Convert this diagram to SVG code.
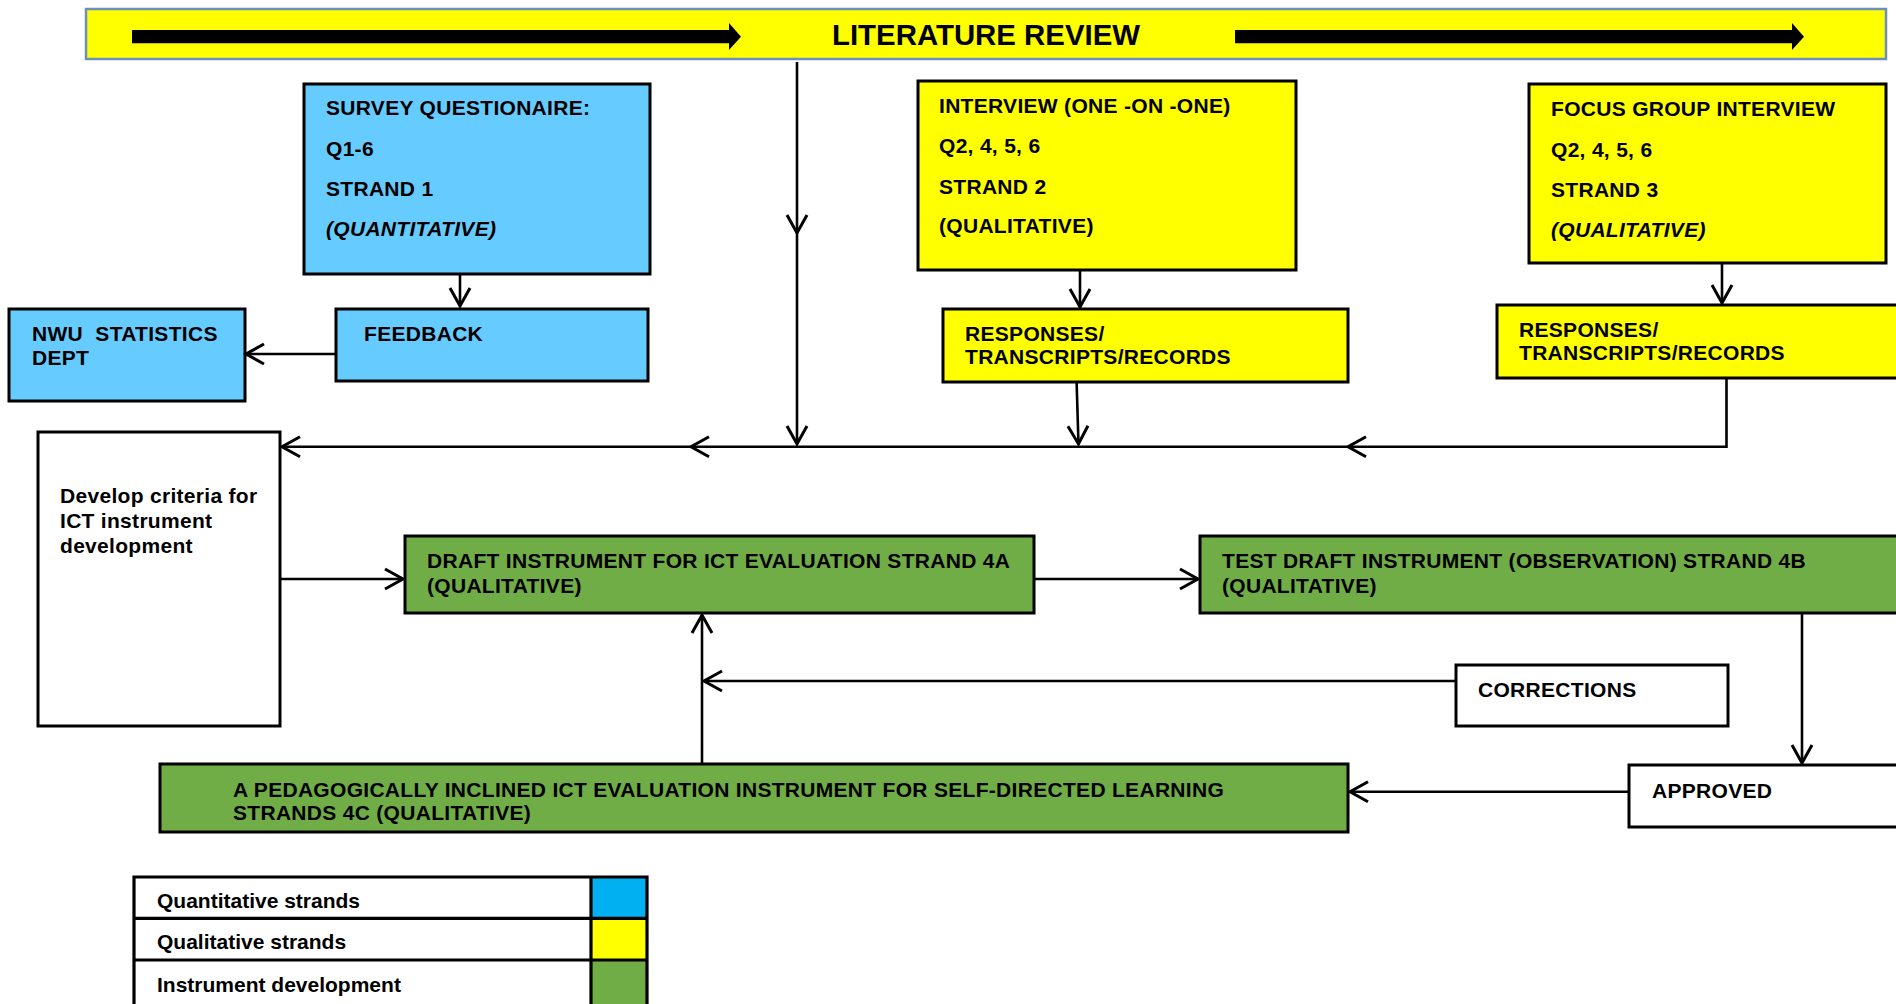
<svg xmlns="http://www.w3.org/2000/svg" width="1896" height="1004" viewBox="0 0 1896 1004">
  <defs>
    <marker id="arr" viewBox="-20 -12 24 24" markerWidth="24" markerHeight="24" refX="0" refY="0" orient="auto" markerUnits="userSpaceOnUse">
      <path d="M-18,-10 L0,0 L-18,10" fill="none" stroke="#000" stroke-width="3"/>
    </marker>
    <style>
      .box { stroke: #000; stroke-width: 3; }
      .blue { fill: #66CCFF; }
      .yellow { fill: #FFFF00; }
      .green { fill: #70AD47; }
      .white { fill: #FFFFFF; }
      .t { font-family: "Liberation Sans", Arial, sans-serif; font-weight: bold; font-size: 21px; letter-spacing: 0.3px; fill: #000; white-space: pre; }
      .it { font-style: italic; }
      .lg { font-size: 21px; letter-spacing: 0; }
      .con { fill: none; stroke: #000; stroke-width: 2.6; }
    </style>
  </defs>
  <rect width="1896" height="1004" fill="#FFFFFF"/>

  <!-- banner -->
  <g id="literature-review">
    <rect x="86" y="9" width="1800" height="50" fill="#FFFF00" stroke="#6D8FBF" stroke-width="2.5"/>
    <polygon points="132,30 729,30 729,23 741,36.7 729,50 729,43.3 132,43.3" fill="#000"/>
    <polygon points="1235,30 1792,30 1792,23 1804,36.7 1792,50 1792,43.3 1235,43.3" fill="#000"/>
    <text class="t" x="832" y="45" style="font-size:29.4px;letter-spacing:0">LITERATURE REVIEW</text>
  </g>

  <!-- quantitative strand -->
  <g id="survey">
    <rect class="box blue" x="304" y="84" width="346" height="190"/>
    <text class="t" x="326" y="115">SURVEY QUESTIONAIRE:</text>
    <text class="t" x="326" y="156">Q1-6</text>
    <text class="t" x="326" y="196">STRAND 1</text>
    <text class="t it" x="326" y="236">(QUANTITATIVE)</text>
  </g>
  <g id="feedback">
    <rect class="box blue" x="336" y="309" width="312" height="72"/>
    <text class="t" x="364" y="341">FEEDBACK</text>
  </g>
  <g id="nwu-statistics">
    <rect class="box blue" x="9" y="309" width="236" height="92"/>
    <text class="t" x="32" y="341">NWU  STATISTICS</text>
    <text class="t" x="32" y="365">DEPT</text>
  </g>

  <!-- qualitative strands -->
  <g id="interview">
    <rect class="box yellow" x="918" y="81" width="378" height="189"/>
    <text class="t" x="939" y="113">INTERVIEW (ONE -ON -ONE)</text>
    <text class="t" x="939" y="153">Q2, 4, 5, 6</text>
    <text class="t" x="939" y="194">STRAND 2</text>
    <text class="t" x="939" y="233">(QUALITATIVE)</text>
  </g>
  <g id="responses-interview">
    <rect class="box yellow" x="943" y="309" width="405" height="73"/>
    <text class="t" x="965" y="341">RESPONSES/</text>
    <text class="t" x="965" y="364">TRANSCRIPTS/RECORDS</text>
  </g>
  <g id="focus-group">
    <rect class="box yellow" x="1529" y="84" width="357" height="179"/>
    <text class="t" x="1551" y="116">FOCUS GROUP INTERVIEW</text>
    <text class="t" x="1551" y="157">Q2, 4, 5, 6</text>
    <text class="t" x="1551" y="197">STRAND 3</text>
    <text class="t it" x="1551" y="237">(QUALITATIVE)</text>
  </g>
  <g id="responses-focus">
    <rect class="box yellow" x="1497" y="305" width="420" height="73"/>
    <text class="t" x="1519" y="337">RESPONSES/</text>
    <text class="t" x="1519" y="360">TRANSCRIPTS/RECORDS</text>
  </g>

  <!-- instrument development -->
  <g id="develop-criteria">
    <rect class="box white" x="38" y="432" width="242" height="294"/>
    <text class="t" x="60" y="503">Develop criteria for</text>
    <text class="t" x="60" y="528">ICT instrument</text>
    <text class="t" x="60" y="553">development</text>
  </g>
  <g id="draft-instrument">
    <rect class="box green" x="405" y="536" width="629" height="77"/>
    <text class="t" x="427" y="568">DRAFT INSTRUMENT FOR ICT EVALUATION STRAND 4A</text>
    <text class="t" x="427" y="593">(QUALITATIVE)</text>
  </g>
  <g id="test-draft">
    <rect class="box green" x="1200" y="536" width="720" height="77"/>
    <text class="t" x="1222" y="568">TEST DRAFT INSTRUMENT (OBSERVATION) STRAND 4B</text>
    <text class="t" x="1222" y="593">(QUALITATIVE)</text>
  </g>
  <g id="corrections">
    <rect class="box white" x="1456" y="665" width="272" height="61"/>
    <text class="t" x="1478" y="697">CORRECTIONS</text>
  </g>
  <g id="approved">
    <rect class="box white" x="1629" y="765" width="290" height="62"/>
    <text class="t" x="1652" y="798">APPROVED</text>
  </g>
  <g id="final-instrument">
    <rect class="box green" x="160" y="764" width="1188" height="68"/>
    <text class="t" x="233" y="797">A PEDAGOGICALLY INCLINED ICT EVALUATION INSTRUMENT FOR SELF-DIRECTED LEARNING</text>
    <text class="t" x="233" y="820">STRANDS 4C (QUALITATIVE)</text>
  </g>

  <!-- connectors -->
  <g id="connectors">
    <path class="con" d="M797,62 V233" marker-end="url(#arr)"/>
    <path class="con" d="M797,233 V444" marker-end="url(#arr)"/>
    <path class="con" d="M460,274 V306" marker-end="url(#arr)"/>
    <path class="con" d="M336,354 H246" marker-end="url(#arr)"/>
    <path class="con" d="M1080,271 V307" marker-end="url(#arr)"/>
    <path class="con" d="M1722,263 V303" marker-end="url(#arr)"/>
    <path class="con" d="M1076.6,382 L1078.5,444" marker-end="url(#arr)"/>
    <path class="con" d="M1726.5,378 V446.7 H1348" marker-end="url(#arr)"/>
    <path class="con" d="M1348,446.7 H691" marker-end="url(#arr)"/>
    <path class="con" d="M691,446.7 H282" marker-end="url(#arr)"/>
    <path class="con" d="M280,579 H403" marker-end="url(#arr)"/>
    <path class="con" d="M1035,579 H1198" marker-end="url(#arr)"/>
    <path class="con" d="M1802,613 V763" marker-end="url(#arr)"/>
    <path class="con" d="M1629,791.7 H1350" marker-end="url(#arr)"/>
    <path class="con" d="M702,764 V615" marker-end="url(#arr)"/>
    <path class="con" d="M1456,681 H704" marker-end="url(#arr)"/>
  </g>

  <!-- legend -->
  <g id="legend">
    <rect x="591" y="877" width="56" height="41.3" fill="#00B0F0"/>
    <rect x="591" y="918.3" width="56" height="41.7" fill="#FFFF00"/>
    <rect x="591" y="960" width="56" height="46" fill="#70AD47"/>
    <path d="M134,1006 V877 H647 V1006 M134,918.3 H647 M134,960 H647 M591,877 V1006" fill="none" stroke="#000" stroke-width="3.2"/>
    <text class="t lg" x="157" y="908">Quantitative strands</text>
    <text class="t lg" x="157" y="949">Qualitative strands</text>
    <text class="t lg" x="157" y="992">Instrument development</text>
  </g>
</svg>
